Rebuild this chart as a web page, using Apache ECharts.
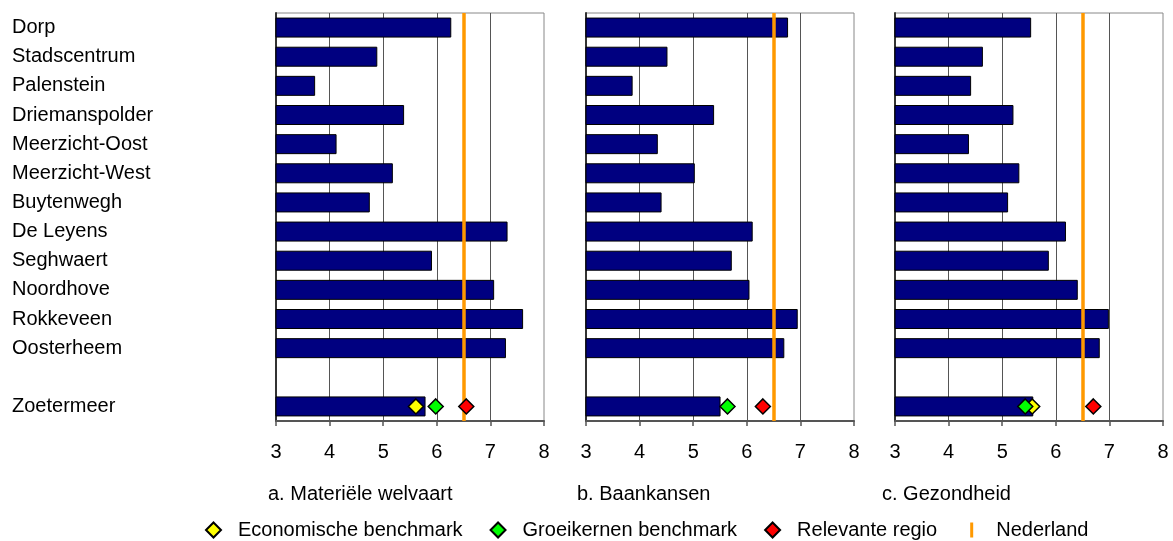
<!DOCTYPE html>
<html>
<head>
<meta charset="utf-8">
<script src="https://cdn.jsdelivr.net/npm/echarts@6/dist/echarts.min.js"></script>
<style>
  html, body { margin: 0; padding: 0; background: #fff; }
  #chart { width: 1173px; height: 541px; }
</style>
</head>
<body>
<div id="chart"></div>
<script>
// wijken, met een lege rij tussen Oosterheem en Zoetermeer
const categories = ['Dorp', 'Stadscentrum', 'Palenstein', 'Driemanspolder', 'Meerzicht-Oost',
    'Meerzicht-West', 'Buytenwegh', 'De Leyens', 'Seghwaert', 'Noordhove', 'Rokkeveen',
    'Oosterheem', '', 'Zoetermeer'];

const welvaart   = [6.27, 4.89, 3.73, 5.39, 4.13, 5.18, 4.75, 7.32, 5.91, 7.07, 7.61, 7.29, null, 5.79];
const baankansen = [6.77, 4.52, 3.87, 5.39, 4.34, 5.03, 4.41, 6.11, 5.72, 6.05, 6.95, 6.70, null, 5.51];
const gezondheid = [5.54, 4.64, 4.42, 5.21, 4.38, 5.32, 5.11, 6.19, 5.87, 6.41, 6.99, 6.82, null, 5.58];

// benchmarks voor Zoetermeer, per paneel (a, b, c)
const economisch  = [5.61, null, 5.56];
const groeikernen = [5.98, 5.64, 5.43];
const regio       = [6.55, 6.30, 6.70];
const nederland   = [6.5, 6.5, 6.5];

const panelTitles = ['a. Materiële welvaart', 'b. Baankansen', 'c. Gezondheid'];
const axisMin = 3;
const axisMax = 8;

const font = "'Liberation Sans', Arial, sans-serif";
const panels = [welvaart, baankansen, gezondheid];
const gridLefts = [276, 586, 895];
const titleLefts = [263, 572, 877];

let grids = [], xAxes = [], yAxes = [], series = [], titles = [];

panels.forEach((values, i) => {
    grids.push({
        left: gridLefts[i], top: 13, width: 268, height: 408,
        show: true, borderColor: '#888', borderWidth: 1
    });
    xAxes.push({
        type: 'value', gridIndex: i, min: axisMin, max: axisMax, interval: 1,
        axisLine: { show: true, lineStyle: { color: '#555', width: 2 } },
        axisTick: { show: true, length: 5, lineStyle: { color: '#555', width: 1.5 } },
        axisLabel: { fontSize: 20, color: '#000', fontFamily: font, margin: 21 },
        splitLine: { show: true, showMaxLine: false, lineStyle: { color: '#555', width: 1 } }
    });
    yAxes.push({
        type: 'category', gridIndex: i, data: categories, inverse: true,
        axisLine: { show: true, lineStyle: { color: '#333', width: 2 } },
        axisTick: { show: false },
        axisLabel: i === 0
            ? { show: true, align: 'left', margin: 264, fontSize: 20, color: '#000', fontFamily: font }
            : { show: false }
    });
    titles.push({
        text: panelTitles[i], left: titleLefts[i], top: 479,
        textStyle: { fontSize: 20, fontWeight: 'normal', color: '#000', fontFamily: font }
    });

    series.push({
        type: 'bar', xAxisIndex: i, yAxisIndex: i, data: values,
        barWidth: 20, z: 2, silent: true,
        itemStyle: { color: '#000080', borderColor: '#000', borderWidth: 1 }
    });
    series.push({
        type: 'line', name: 'Nederland', xAxisIndex: i, yAxisIndex: i, data: [],
        z: 3, itemStyle: { color: '#FF9900' }, lineStyle: { color: '#FF9900' },
        markLine: {
            silent: true, symbol: 'none', label: { show: false },
            lineStyle: { color: '#FF9900', width: 3.5, type: 'solid' },
            data: [{ xAxis: nederland[i] }]
        }
    });
    [
        ['Economische benchmark', economisch, '#FFFF00', 4],
        ['Groeikernen benchmark', groeikernen, '#00FF00', 5],
        ['Relevante regio', regio, '#FF0000', 6]
    ].forEach(([name, arr, color, z]) => {
        series.push({
            type: 'scatter', name: name, xAxisIndex: i, yAxisIndex: i, z: z,
            symbol: 'diamond', symbolSize: 15,
            itemStyle: { color: color, borderColor: '#000', borderWidth: 1.5, opacity: 1 },
            data: arr[i] == null ? [] : [[arr[i], 'Zoetermeer']]
        });
    });
});

const chart = echarts.init(document.getElementById('chart'));
chart.setOption({
    animation: false,
    backgroundColor: '#fff',
    title: titles,
    grid: grids,
    xAxis: xAxes,
    yAxis: yAxes,
    legend: {
        left: 200, top: 515,
        itemWidth: 15, itemHeight: 15, itemGap: 27,
        textStyle: { fontSize: 20, color: '#000', fontFamily: font, padding: [0, 0, 0, 12] },
        data: [
            { name: 'Economische benchmark', icon: 'diamond' },
            { name: 'Groeikernen benchmark', icon: 'diamond' },
            { name: 'Relevante regio', icon: 'diamond' },
            { name: 'Nederland', icon: 'path://M0,0M20,20M8,0h4v20h-4z' }
        ],
        selectedMode: false
    },
    series: series
});
</script>
</body>
</html>
